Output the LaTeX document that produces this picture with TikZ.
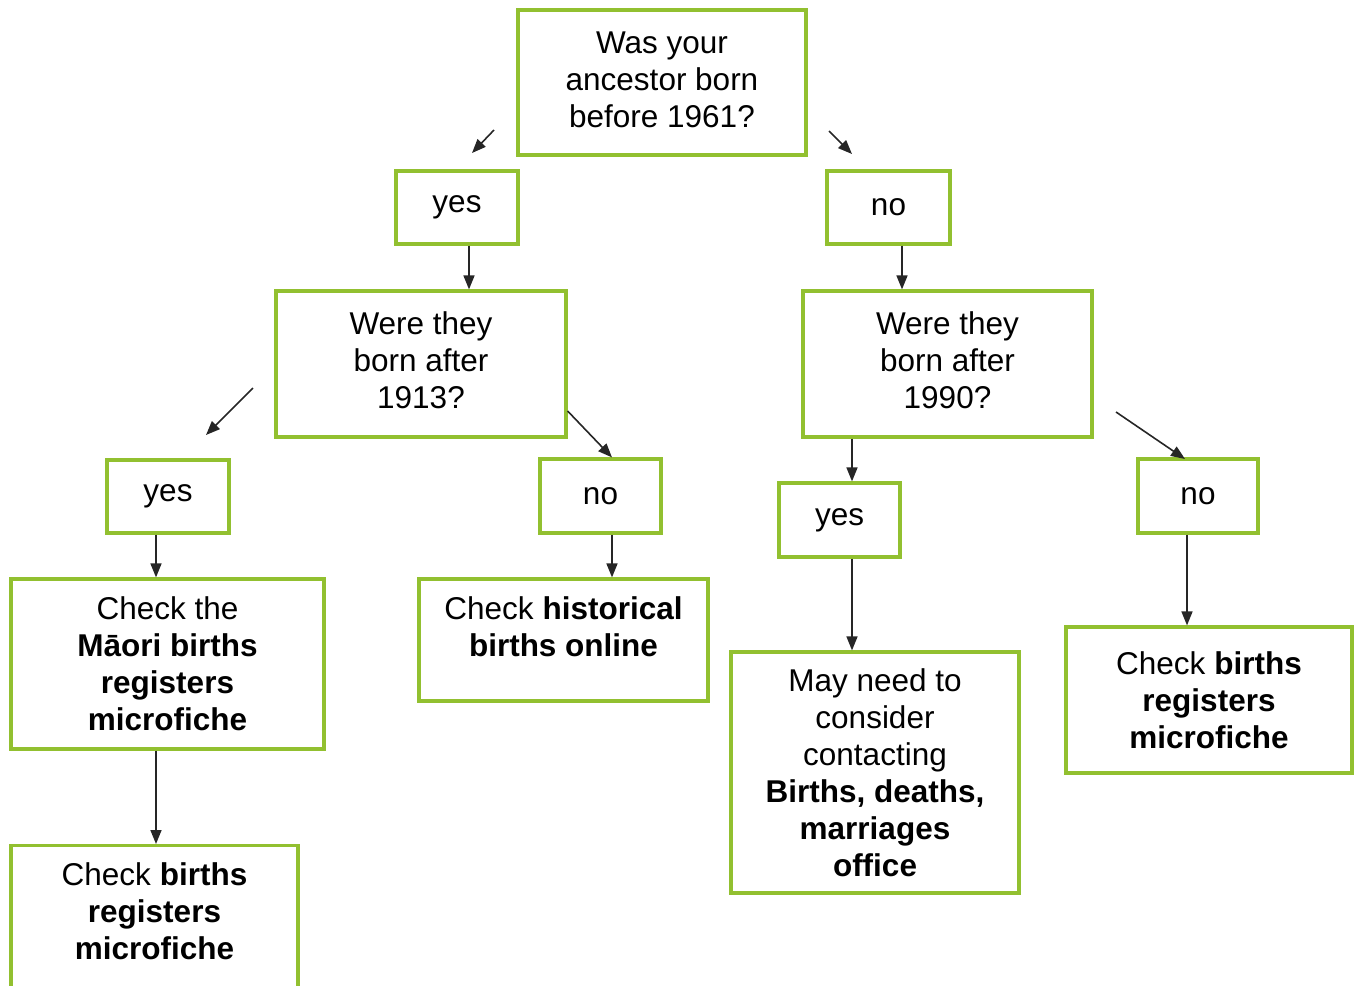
\documentclass[tikz,border=0pt]{standalone}
\usepackage{fontspec}
\setmainfont{Liberation Sans}
\usetikzlibrary{arrows.meta}
\definecolor{boxgreen}{RGB}{146,192,48}

\begin{document}
\begin{tikzpicture}[x=1pt, y=-1pt,
    box/.style={draw=boxgreen, line width=3.2pt, fill=white, align=center, inner sep=0pt,
        font=\fontsize{31.5}{37}\selectfont},
    arr/.style={-{Triangle[length=14pt, width=11pt]}, line width=1.6pt, draw=black!85}]
    \useasboundingbox (0,0) rectangle (1354,985);
    \clip (0,0) rectangle (1354,985);
    % Questions
    \node[box, minimum width=288, minimum height=145, text depth=6pt] (q1) at (662,82.5) {Was your\\ancestor born\\before 1961?};
    \node[box, minimum width=290, minimum height=146, text depth=7pt] (q2l) at (421,364) {Were they\\born after\\1913?};
    \node[box, minimum width=289, minimum height=146, text depth=7pt] (q2r) at (947.5,364) {Were they\\born after\\1990?};
    % Answers
    \node[box, minimum width=122, minimum height=73] (yes1) at (457,207.5) {yes};
    \node[box, minimum width=123, minimum height=73] (no1) at (888.5,207.5) {no};
    \node[box, minimum width=122, minimum height=73] (yesl) at (168,496.5) {yes};
    \node[box, minimum width=121, minimum height=74] (nol) at (600.5,496) {no};
    \node[box, minimum width=121, minimum height=74] (yesr) at (839.5,520) {yes};
    \node[box, minimum width=120, minimum height=74] (nor) at (1198,496) {no};
    % Results
    \node[box, minimum width=313, minimum height=170] (maori) at (167.5,664) {Check the\\\textbf{Māori births}\\\textbf{registers}\\\textbf{microfiche}};
    \node[box, minimum width=289, minimum height=122, text depth=26pt] (hist) at (563.5,640) {Check \textbf{historical}\\\textbf{births online}};
    \node[box, minimum width=288, minimum height=241] (bdm) at (875,772.5) {May need to\\consider\\contacting\\\textbf{Births, deaths,}\\\textbf{marriages}\\\textbf{office}};
    \node[box, minimum width=286, minimum height=146] (regr) at (1209,700) {Check \textbf{births}\\\textbf{registers}\\\textbf{microfiche}};
    \node[box, minimum width=287, minimum height=160, text depth=30pt, anchor=north] (regl) at (154.5,844) {Check \textbf{births}\\\textbf{registers}\\\textbf{microfiche}};
    % Loose arrows
    \coordinate (a1s) at (494,130);
    \coordinate (a1e) at (472,153);
    \coordinate (a2s) at (829,131);
    \coordinate (a2e) at (852,154);
    \coordinate (a3s) at (253,388);
    \coordinate (a3e) at (206,435);
    \coordinate (a4s) at (1116,412);
    \coordinate (a4e) at (1185,459);
    \draw[arr] (a1s) -- (a1e);
    \draw[arr] (a2s) -- (a2e);
    \draw[arr] (a3s) -- (a3e);
    \draw[arr] (a4s) -- (a4e);
    % Connectors
    \draw[arr] ([xshift=12pt]yes1.south) -- ([xshift=12pt]yes1.south |- q2l.north);
    \draw[arr] ([xshift=13.5pt]no1.south) -- ([xshift=13.5pt]no1.south |- q2r.north);
    \draw[arr] ([yshift=-47pt]q2l.east) -- ([xshift=11.5pt]nol.north);
    \draw[arr] ([xshift=12.5pt]yesr.north |- q2r.south) -- ([xshift=12.5pt]yesr.north);
    \draw[arr] ([xshift=-12pt]yesl.south) -- ([xshift=-12pt]yesl.south |- maori.north);
    \draw[arr] ([xshift=11.5pt]nol.south) -- ([xshift=11.5pt]nol.south |- hist.north);
    \draw[arr] ([xshift=12.5pt]yesr.south) -- ([xshift=12.5pt]yesr.south |- bdm.north);
    \draw[arr] ([xshift=-11pt]nor.south) -- ([xshift=-11pt]nor.south |- regr.north);
    \draw[arr] ([xshift=-11.5pt]maori.south) -- ([xshift=-11.5pt]maori.south |- regl.north);
\end{tikzpicture}
\end{document}
